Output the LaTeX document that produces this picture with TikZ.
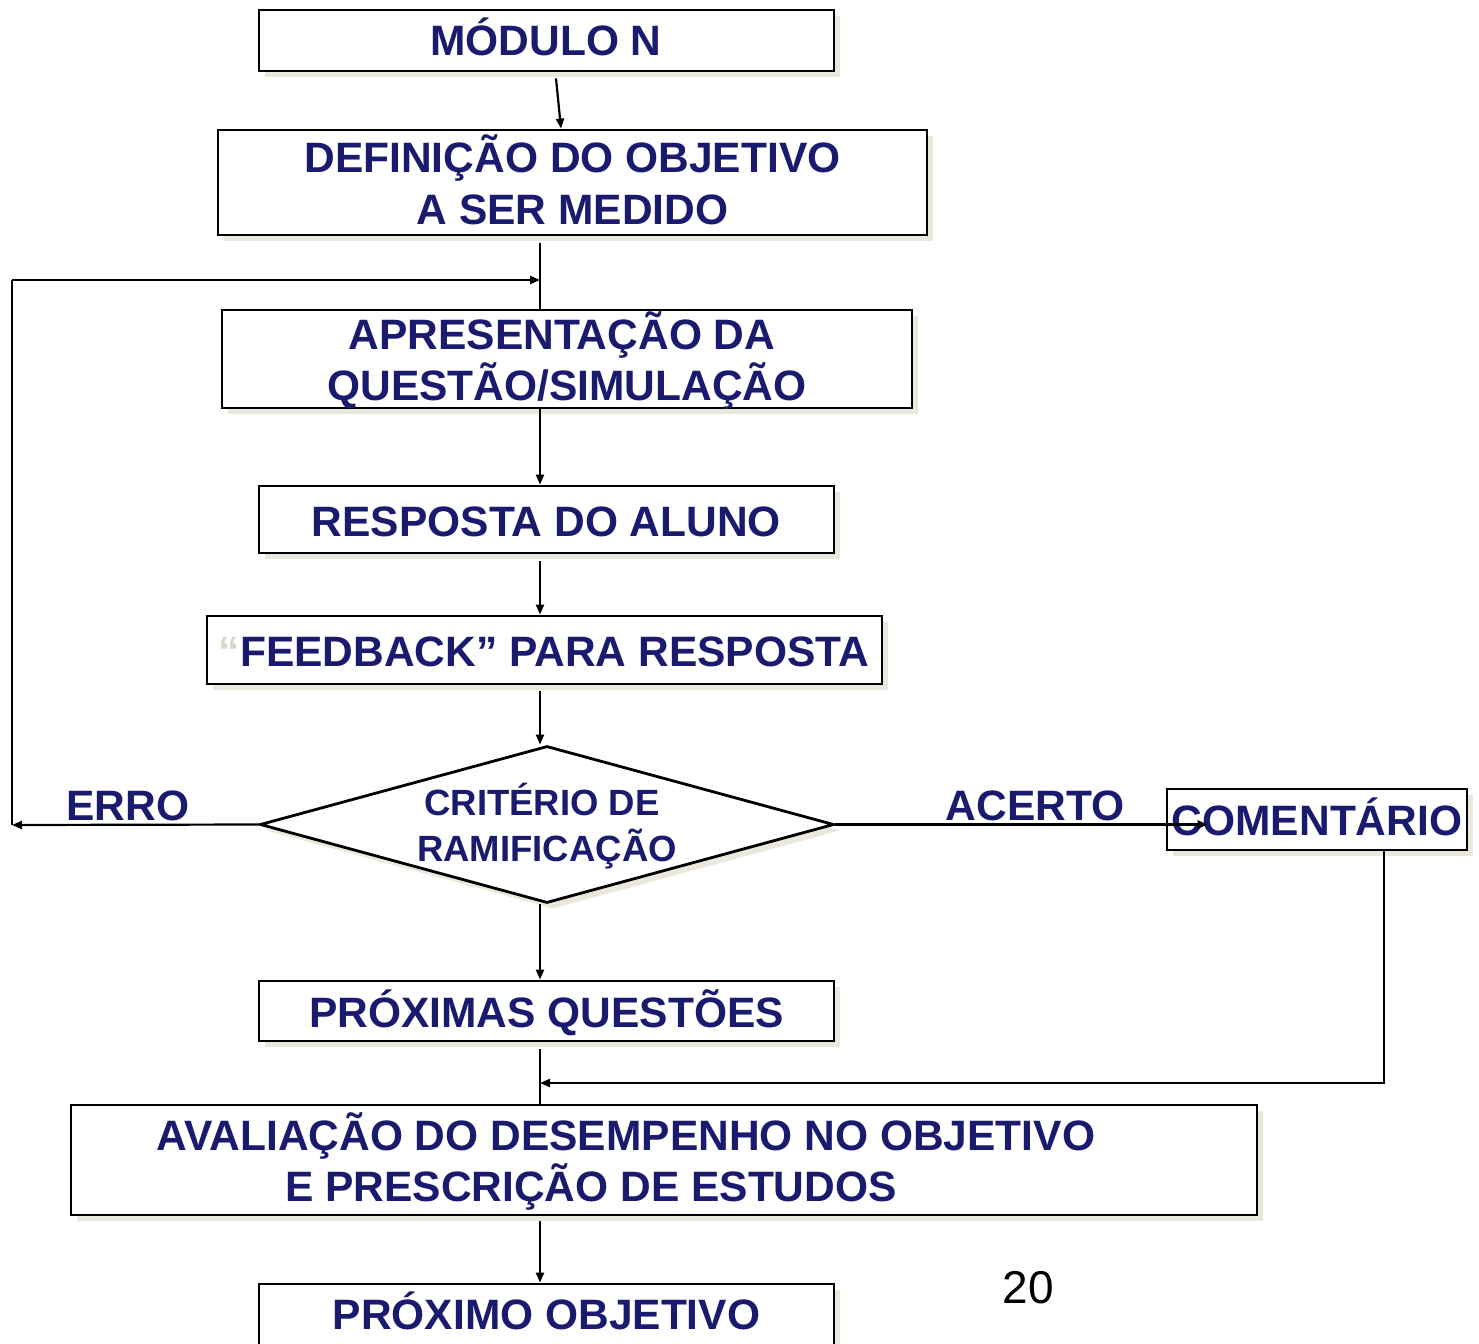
\documentclass[tikz,border=0pt]{standalone}
\usepackage{fontspec}
\setmainfont{Liberation Sans}
\usetikzlibrary{shapes.geometric,arrows.meta,shadows}
\definecolor{navy}{RGB}{26,26,110}
\definecolor{shad}{RGB}{234,232,220}
\definecolor{quotec}{RGB}{218,216,202}
\tikzset{
  box/.style={draw=black, line width=2.8pt, fill=white, inner sep=0pt,
    drop shadow={shadow xshift=6pt, shadow yshift=-6pt, fill=shad, opacity=1}},
  txt/.style={text=navy, font=\fontsize{42.5}{51}\selectfont\bfseries, inner sep=0pt, anchor=base},
  stxt/.style={text=navy, font=\fontsize{36.5}{46}\selectfont\bfseries, inner sep=0pt, anchor=base},
  conn/.style={line width=2.2pt, draw=black},
  arr/.style={conn, -{Triangle[length=10pt,width=8pt]}},
}
\begin{document}
\begin{tikzpicture}[x=1pt,y=-1pt]
\clip (0,0) rectangle (1479,1343);
\fill[white] (0,0) rectangle (1479,1343);
% boxes
\node[box, minimum width=575pt, minimum height=61pt] (mod) at (546.5,40.5) {};
\node[box, minimum width=709pt, minimum height=105pt] (def) at (572.5,182.5) {};
\node[box, minimum width=690pt, minimum height=98pt] (apr) at (567,359) {};
\node[box, minimum width=575pt, minimum height=67pt] (resp) at (546.5,519.5) {};
\node[box, minimum width=675pt, minimum height=68pt] (feed) at (544.5,650) {};
\node[box, shape=diamond, minimum width=574pt, minimum height=157pt] (dia) at (547,824.5) {};
\node[box, minimum width=300pt, minimum height=61pt] (com) at (1317,819.5) {};
\node[box, minimum width=575pt, minimum height=60pt] (pq) at (546.5,1011) {};
\node[box, minimum width=1186pt, minimum height=110pt] (aval) at (664,1160) {};
\node[box, minimum width=575pt, minimum height=80pt] (po) at (546.5,1324) {};
% texts
\node[txt] (tmod) at (546,56) {MÓDULO N};
\node[txt] (tdef1) at (572.5,173) {DEFINIÇÃO DO OBJETIVO};
\node[txt] (tdef2) at (572.5,224) {A SER MEDIDO};
\node[txt] (tapr1) at (562,349) {APRESENTAÇÃO DA};
\node[txt] (tapr2) at (567,400) {QUESTÃO/SIMULAÇÃO};
\node[txt] (tresp) at (546.5,536) {RESPOSTA DO ALUNO};
\node[txt] (tfeed) at (544,666) {\textcolor{quotec}{“}FEEDBACK” PARA RESPOSTA};
\node[stxt] (tdia1) at (542,815) {CRITÉRIO DE};
\node[stxt] (tdia2) at (547,861) {RAMIFICAÇÃO};
\node[txt] (terro) at (128,820) {ERRO};
\node[txt] (tacer) at (1035,820) {ACERTO};
\node[txt] (tcom) at (1317,835) {COMENTÁRIO};
\node[txt] (tpq) at (546.5,1027) {PRÓXIMAS QUESTÕES};
\node[txt] (taval1) at (626,1150) {AVALIAÇÃO DO DESEMPENHO NO OBJETIVO};
\node[txt] (taval2) at (591,1201) {E PRESCRIÇÃO DE ESTUDOS};
\node[txt] (tpo) at (546.5,1329) {PRÓXIMO OBJETIVO};
\node[inner sep=0pt, anchor=base, font=\fontsize{46}{50}\selectfont] (pg) at (1028,1303) {20};
% coordinates
\coordinate (sp) at (540,0);
\coordinate (lt) at (12,280);
\coordinate (lb) at (12,825);
\coordinate (jn) at (540,280);
\coordinate (cr) at (1384,1083);
\coordinate (cj) at (540,1083);
% connectors
\draw[arr] ([xshift=9.5pt,yshift=-6pt]mod.south) -- ([xshift=-11.5pt]def.north);
\draw[conn] ([yshift=-7pt]def.south -| sp) -- (apr.north -| sp);
\draw[arr] (lt) -- (jn);
\draw[conn] (lb) -- (lt);
\draw[arr] (dia.west) -- (lb);
\draw[arr] (apr.south -| sp) -- (resp.north -| sp);
\draw[arr] ([yshift=-7pt]resp.south -| sp) -- (feed.north -| sp);
\draw[arr] ([yshift=-6pt]feed.south -| sp) -- (dia.north -| sp);
\draw[arr] (dia.east) -- ([xshift=42pt]com.west |- dia.east);
\draw[arr] (dia.south -| sp) -- (pq.north -| sp);
\draw[arr] (com.south -| cr) -- (cr) -- (cj);
\draw[conn] ([yshift=-7pt]pq.south -| sp) -- (aval.north -| sp);
\draw[arr] ([yshift=-5pt]aval.south -| sp) -- (po.north -| sp);
\end{tikzpicture}
\end{document}
